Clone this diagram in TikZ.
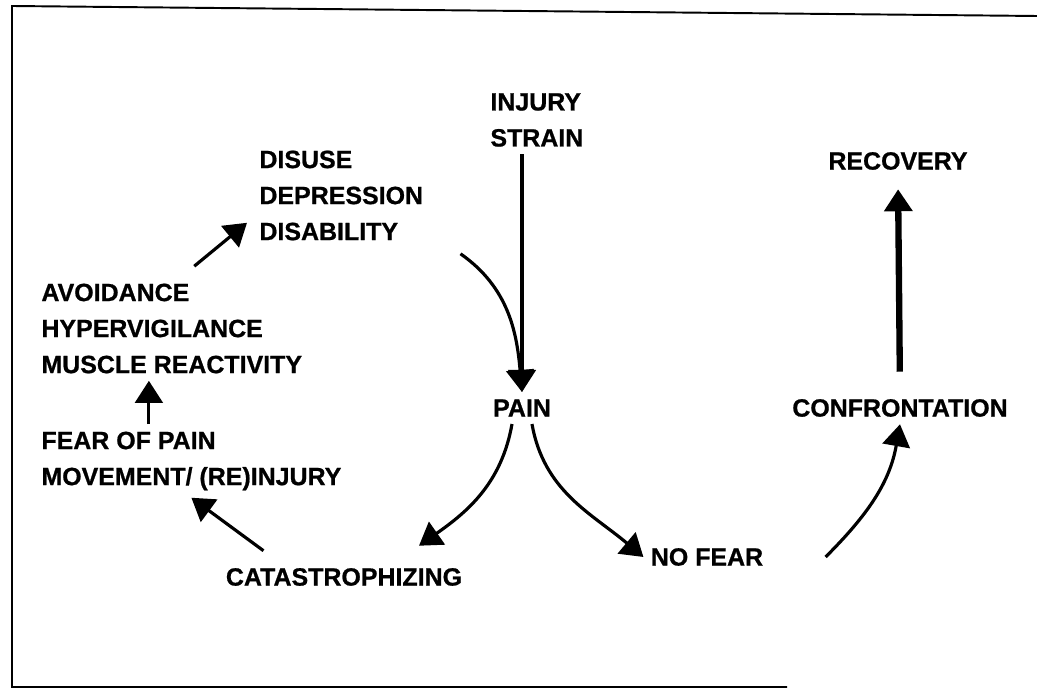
\documentclass[tikz,border=0pt]{standalone}
\usepackage{fontspec}
\setmainfont{Liberation Sans}[BoldFeatures={FakeBold=0.8}]
\usetikzlibrary{arrows.meta}

\begin{document}
\begin{tikzpicture}[>={Triangle[length=0.44cm,width=0.55cm]}, line width=1.8pt,
    lbl/.style={font=\bfseries\fontsize{14.2}{20.5}\selectfont, align=left},
    fat/.style={line width=3.6pt}]

        \useasboundingbox (0,0) rectangle (20.74,13.88);

        % Rahmen
        \draw[line width=1.1pt] (20.74,13.56) -- (0.24,13.76) -- (0.24,0.14) -- (15.74,0.14);

        % Kreislauf links
        \node[lbl, anchor=west] at (9.66,11.48) (injury) {INJURY\\STRAIN};
        \node[lbl, anchor=west] at (5.04,9.97) (disuse) {DISUSE\\DEPRESSION\\DISABILITY};
        \node[lbl, anchor=west] at (0.68,7.31) (avoid) {AVOIDANCE\\HYPERVIGILANCE\\MUSCLE REACTIVITY};
        \node[lbl, anchor=west] at (0.68,4.66) (fear) {FEAR OF PAIN\\MOVEMENT/ (RE)INJURY};
        \node[lbl] at (6.88,2.34) (catas) {CATASTROPHIZING};

        % Mitte und rechts
        \node[lbl] at (10.44,5.72) (pain) {PAIN};
        \node[lbl] at (14.14,2.74) (nofear) {NO FEAR};
        \node[lbl] at (18.0,5.72) (confront) {CONFRONTATION};
        \node[lbl] at (17.96,10.66) (recovery) {RECOVERY};

        % Pfeile zu PAIN
        \draw[->] (pain.north |- injury.south) -- (pain.north);
        \draw[->] ([shift={(0.6,-0.12)}]disuse.south east) to[out=-35, in=95] (pain.north);

        % Verzweigung
        \draw[->] ([xshift=-0.2cm]pain.south) to[out=-100, in=35] ([shift={(1.5,0.3)}]catas.north);
        \draw[->] ([xshift=0.2cm]pain.south) to[out=-80, in=140] (nofear.west);

        % rechter Ast
        \draw[->] ([xshift=1.1cm]nofear.east) to[out=45, in=-100] (confront.south);
        \draw[->, fat, shorten <=0.4cm, shorten >=0.24cm] (confront.north) -- (recovery.south);

        % linker Ast
        \draw[->] ([shift={(0.9,0.2)}]catas.north west) -- (fear.south);
        \draw[->] ([xshift=-0.85cm]fear.north) -- ([xshift=-0.85cm]fear.north |- avoid.south);
        \draw[->] ([shift={(0.45,0.2)}]avoid.north) -- ([shift={(-0.1,0.5)}]disuse.south west);

    \end{tikzpicture}
\end{document}
